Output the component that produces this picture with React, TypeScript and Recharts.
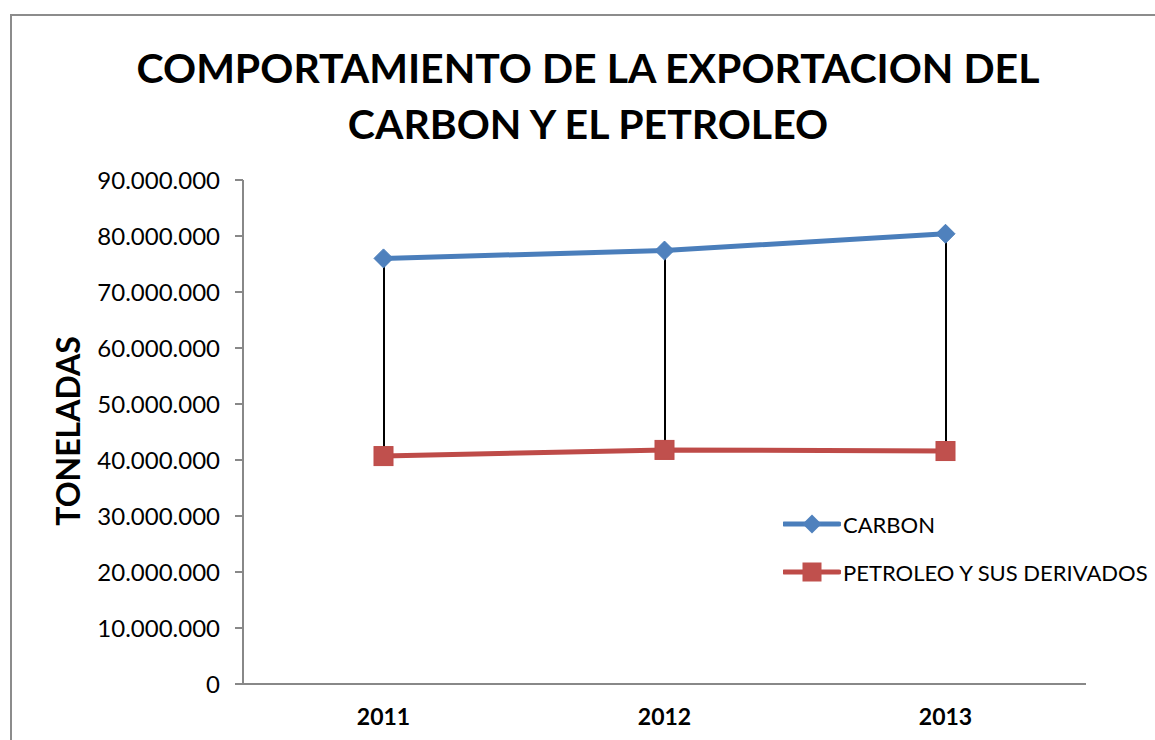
import React from 'react';
import { ComposedChart, Line, Bar, XAxis, YAxis } from 'recharts';

const categories = ['2011', '2012', '2013'];
const carbon = [76000000, 77400000, 80400000];
const petroleo = [40700000, 41800000, 41600000];
const yTicks = [0, 10000000, 20000000, 30000000, 40000000, 50000000, 60000000, 70000000, 80000000, 90000000];
const seriesNames = ['CARBON', 'PETROLEO Y SUS DERIVADOS'];

const data = categories.map((c, i) => ({
  year: c,
  carbon: carbon[i],
  petroleo: petroleo[i],
  range: [petroleo[i], carbon[i]],
}));

const BLUE_LINE = '#4A7EBB';
const BLUE_FILL = '#4F81BD';
const RED_LINE = '#BE4B48';
const RED_FILL = '#C0504D';
const FONT = 'Lato, "Open Sans", sans-serif';

const fmt = (v: number) => (v === 0 ? '0' : v.toLocaleString('de-DE'));

const Diamond = (props: any) => {
  const { cx, cy } = props;
  if (cx == null || cy == null) return null;
  const r = 9.5;
  return <polygon points={`${cx},${cy - r} ${cx + r},${cy} ${cx},${cy + r} ${cx - r},${cy}`} fill={BLUE_FILL} stroke={BLUE_LINE} strokeWidth={1} />;
};

const Square = (props: any) => {
  const { cx, cy } = props;
  if (cx == null || cy == null) return null;
  const h = 9.5;
  return <rect x={cx - h} y={cy - h} width={2 * h} height={2 * h} fill={RED_FILL} stroke={RED_LINE} strokeWidth={1} />;
};

const LegendBox = () => (
  <div style={{ position: 'absolute', left: 783, top: 500, fontFamily: FONT, fontSize: 22, color: '#000' }}>
    {seriesNames.map((name, i) => (
      <div key={name} style={{ display: 'flex', alignItems: 'center', height: 48, whiteSpace: 'nowrap' }}>
        <svg width={58} height={24} style={{ marginRight: 2 }}>
          <line x1={1} y1={12} x2={56} y2={12} stroke={i === 0 ? BLUE_LINE : RED_LINE} strokeWidth={5} strokeLinecap="round" />
          {i === 0 ? (
            <polygon points="29,2.5 38.5,12 29,21.5 19.5,12" fill={BLUE_FILL} />
          ) : (
            <rect x={19.5} y={2.5} width={19} height={19} fill={RED_FILL} />
          )}
        </svg>
        <span>{name}</span>
      </div>
    ))}
  </div>
);

export default function App() {
  return (
    <div style={{ position: 'absolute', left: 0, top: 0, width: 1155, height: 740, overflow: 'hidden', background: '#fff' }}>
      <div style={{ position: 'absolute', left: 10, top: 14, width: 1300, height: 900, border: '2px solid #8c8c8c', boxSizing: 'border-box' }} />
      <div style={{ position: 'absolute', left: 0, top: 40, width: 1176, textAlign: 'center', fontFamily: FONT, fontWeight: 700, fontSize: 41, lineHeight: '56px', color: '#000' }}>
        COMPORTAMIENTO DE LA EXPORTACION DEL<br />CARBON Y EL PETROLEO
      </div>
      <div style={{ position: 'absolute', left: 67, top: 431, transform: 'translate(-50%, -50%) rotate(-90deg)', fontFamily: FONT, fontWeight: 700, fontSize: 32, whiteSpace: 'nowrap', color: '#000' }}>
        TONELADAS
      </div>
      <div style={{ position: 'absolute', left: 0, top: 0 }}>
        <ComposedChart width={1155} height={740} data={data} margin={{ top: 180, right: 69, bottom: 26, left: 0 }}>
          <XAxis
            dataKey="year"
            axisLine={{ stroke: '#888888', strokeWidth: 2 }}
            tickLine={false}
            tickSize={0}
            tickMargin={25}
            tick={{ fontFamily: FONT, fontWeight: 700, fontSize: 23, fill: '#000' }}
          />
          <YAxis
            width={243}
            domain={[0, 90000000]}
            ticks={yTicks}
            interval={0}
            tickFormatter={fmt}
            axisLine={{ stroke: '#888888', strokeWidth: 2 }}
            tickLine={{ stroke: '#888888', strokeWidth: 2 }}
            tickSize={8}
            tickMargin={15}
            tick={{ fontFamily: FONT, fontSize: 24, fill: '#000' }}
          />
          <Line dataKey="carbon" name={seriesNames[0]} stroke={BLUE_LINE} strokeWidth={5} dot={<Diamond />} activeDot={false} isAnimationActive={false} />
          <Line dataKey="petroleo" name={seriesNames[1]} stroke={RED_LINE} strokeWidth={5} dot={<Square />} activeDot={false} isAnimationActive={false} />
          <Bar dataKey="range" barSize={2} fill="#000000" legendType="none" isAnimationActive={false} />
        </ComposedChart>
      </div>
      <LegendBox />
    </div>
  );
}
